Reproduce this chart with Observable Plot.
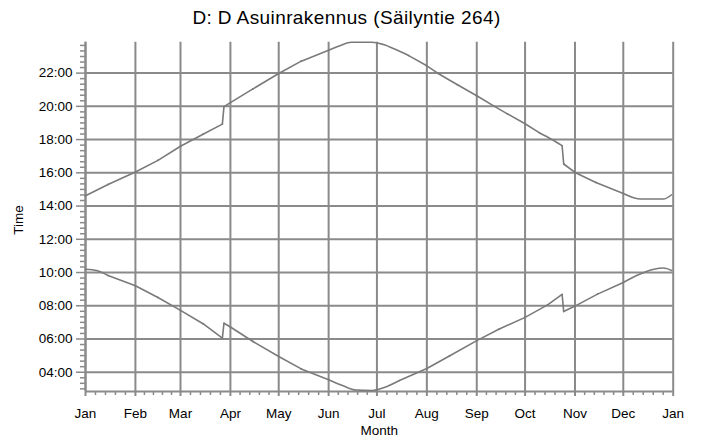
<!DOCTYPE html>
<html><head><meta charset="utf-8">
<script src="https://cdn.jsdelivr.net/npm/d3@7"></script>
<script src="https://cdn.jsdelivr.net/npm/@observablehq/plot@0.6"></script>
<style>
body{margin:0;background:#fff;font-family:"Liberation Sans",Arial,sans-serif;}
#title{height:36px;box-sizing:border-box;padding-top:8px;font-size:19px;line-height:1;text-align:center;letter-spacing:0.4px;color:#000;padding-right:8px;white-space:nowrap;}
#chart svg{display:block}
</style></head><body>
<div id="title"></div>
<div id="chart"></div>
<script>
const titleText = "D: D Asuinrakennus (Säilyntie 264)";
const xLabel = "Month";
const yLabel = "Time";

const upperDates = ["2023-01-01","2023-01-15","2023-02-01","2023-02-15","2023-03-01","2023-03-15","2023-03-27","2023-03-28","2023-04-01","2023-04-15","2023-05-01","2023-05-15","2023-06-01","2023-06-08","2023-06-15","2023-06-28","2023-07-05","2023-07-12","2023-07-21","2023-08-01","2023-08-08","2023-08-20","2023-09-01","2023-09-12","2023-09-20","2023-10-01","2023-10-10","2023-10-18","2023-10-24","2023-10-25","2023-11-01","2023-11-14","2023-12-01","2023-12-12","2023-12-26","2023-12-31"];
const upperTimes = [14.62,15.3,16.05,16.75,17.6,18.32,18.93,19.98,20.22,21.05,21.98,22.72,23.38,23.65,23.86,23.86,23.72,23.45,23.04,22.44,21.98,21.3,20.64,20.0,19.55,18.95,18.4,17.99,17.63,16.53,16.02,15.42,14.76,14.42,14.42,14.68];

const lowerDates = ["2023-01-01","2023-01-08","2023-01-15","2023-02-01","2023-02-15","2023-03-01","2023-03-15","2023-03-27","2023-03-28","2023-04-01","2023-04-15","2023-05-01","2023-05-15","2023-06-01","2023-06-10","2023-06-18","2023-06-28","2023-07-05","2023-07-15","2023-08-01","2023-08-15","2023-09-01","2023-09-15","2023-10-01","2023-10-15","2023-10-24","2023-10-25","2023-11-01","2023-11-15","2023-12-01","2023-12-10","2023-12-20","2023-12-26","2023-12-31"];
const lowerTimes = [10.2,10.12,9.82,9.2,8.5,7.72,6.92,6.05,6.95,6.72,5.85,4.95,4.2,3.55,3.18,2.93,2.9,3.06,3.5,4.22,4.98,5.9,6.6,7.3,8.05,8.68,7.65,7.98,8.7,9.4,9.85,10.2,10.27,10.12];

const monthTicks = ["2023-01-01","2023-02-01","2023-03-01","2023-04-01","2023-05-01","2023-06-01","2023-07-01","2023-08-01","2023-09-01","2023-10-01","2023-11-01","2023-12-01","2024-01-01"];
const monthLabels = ["Jan","Feb","Mar","Apr","May","Jun","Jul","Aug","Sep","Oct","Nov","Dec","Jan"];
const hourTicks = [4,6,8,10,12,14,16,18,20,22];
const hourLabels = ["04:00","06:00","08:00","10:00","12:00","14:00","16:00","18:00","20:00","22:00"];
const yDomain = [2.84, 23.86];

document.getElementById("title").textContent = titleText;

const parse = d3.utcParse("%Y-%m-%d");
// split each series into smooth segments at the daylight-saving jumps
function build(dates, times, name) {
  const pts = [], jumps = [];
  let seg = 0;
  dates.forEach((d, i) => {
    if (i > 0 && Math.abs(times[i] - times[i - 1]) > 0.5) {
      seg++;
      jumps.push({date: parse(dates[i - 1]), time: times[i - 1], z: name + "j" + seg});
      jumps.push({date: parse(d), time: times[i], z: name + "j" + seg});
    }
    pts.push({date: parse(d), time: times[i], z: name + seg});
  });
  return {pts, jumps};
}
const upper = build(upperDates, upperTimes, "u");
const lower = build(lowerDates, lowerTimes, "l");
const monthDates = monthTicks.map(parse);

const minorX = [];
for (let i = 0; i < monthDates.length - 1; i++) {
  const a = +monthDates[i], b = +monthDates[i + 1];
  for (let k = 1; k < 5; k++) minorX.push(new Date(a + (b - a) * k / 5));
}
const minorY = d3.range(9, 72).filter(i => i % 6 !== 0).map(i => i / 3);

const grey = "#8a8a8a";
const lineStyle = {x: "date", y: "time", z: "z", stroke: "#7a7a7a", strokeWidth: 1.6};
const chart = Plot.plot({
  width: 701, height: 403,
  marginLeft: 85, marginRight: 28.3, marginTop: 5.7, marginBottom: 48,
  style: {fontFamily: "'Liberation Sans', Arial, sans-serif", fontSize: "13.5px", color: "#000", background: "#fff"},
  x: {type: "utc", domain: [monthDates[0], monthDates[monthDates.length - 1]]},
  y: {domain: yDomain},
  marks: [
    Plot.gridX(monthDates, {stroke: grey, strokeOpacity: 1, strokeWidth: 2}),
    Plot.gridY(hourTicks, {stroke: grey, strokeOpacity: 1, strokeWidth: 2}),
    Plot.axisX(minorX, {tickSize: 4, stroke: grey, strokeWidth: 1.5, tickFormat: () => "", label: null}),
    Plot.axisX(monthDates, {tickSize: 5, tickPadding: 12, stroke: grey, strokeWidth: 2, label: null,
      tickFormat: d => monthLabels[monthDates.findIndex(t => +t === +d)]}),
    Plot.axisY(minorY, {tickSize: 5, stroke: grey, strokeWidth: 1.5, tickFormat: () => "", label: null}),
    Plot.axisY(hourTicks, {tickSize: 9, tickPadding: 4, stroke: grey, strokeWidth: 1.5, label: null,
      tickFormat: d => hourLabels[hourTicks.indexOf(d)]}),
    Plot.ruleX([monthDates[0]], {stroke: grey, strokeWidth: 2}),
    Plot.ruleY([yDomain[0]], {stroke: grey, strokeWidth: 2}),
    Plot.line(upper.pts, {...lineStyle, curve: "monotone-x"}),
    Plot.line(upper.jumps, lineStyle),
    Plot.line(lower.pts, {...lineStyle, curve: "monotone-x"}),
    Plot.line(lower.jumps, lineStyle),
    Plot.text([xLabel], {frameAnchor: "bottom", dy: 34, lineAnchor: "top", fontSize: 13.5}),
    Plot.text([yLabel], {frameAnchor: "left", dx: -67, dy: 18, rotate: -90, fontSize: 13.5})
  ]
});
document.getElementById("chart").appendChild(chart);
</script>
</body></html>
